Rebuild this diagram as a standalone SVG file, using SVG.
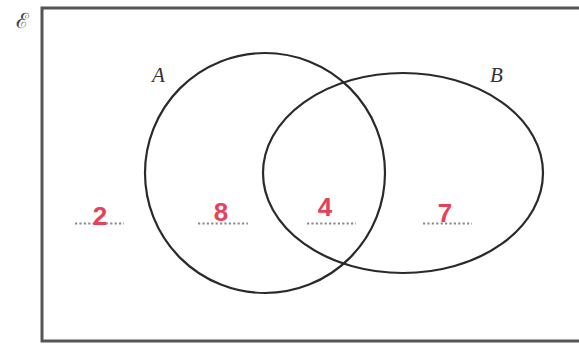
<svg xmlns="http://www.w3.org/2000/svg" width="579" height="358" viewBox="0 0 579 358">
<style>
.set{fill:none;stroke:#2a2a2a;stroke-width:2.2}
.lbl{font-family:"Liberation Serif",serif;font-style:italic;font-size:21px;fill:#333}
.num{font-family:"Liberation Sans",sans-serif;font-weight:bold;font-size:26px;fill:#e8405a;text-anchor:middle}
.dots{stroke:#8a8a8a;stroke-width:2.2;stroke-dasharray:2.2 2.2}
</style>
<rect x="0" y="0" width="579" height="358" fill="#fff"/>
<g id="universe">
<path d="M579 8 H42 V341 H579" fill="none" stroke="#555" stroke-width="3"/>
<text x="16" y="28" font-family="DejaVu Serif,serif" font-size="21" fill="#444">ℰ</text>
</g>
<g id="setA">
<ellipse class="set" cx="265" cy="173" rx="120" ry="120"/>
<text class="lbl" x="152" y="82">A</text>
</g>
<g id="setB">
<ellipse class="set" cx="403" cy="173" rx="140" ry="100"/>
<text class="lbl" x="490" y="82">B</text>
</g>
<g id="regions">
<line class="dots" x1="75" y1="223.5" x2="124" y2="223.5"/>
<text class="num" x="100" y="225">2</text>
<line class="dots" x1="198" y1="223.5" x2="248" y2="223.5"/>
<text class="num" x="221" y="221">8</text>
<line class="dots" x1="307" y1="223.5" x2="356" y2="223.5"/>
<text class="num" x="325" y="216">4</text>
<line class="dots" x1="423" y1="223.5" x2="472" y2="223.5"/>
<text class="num" x="445" y="222">7</text>
</g>
</svg>
